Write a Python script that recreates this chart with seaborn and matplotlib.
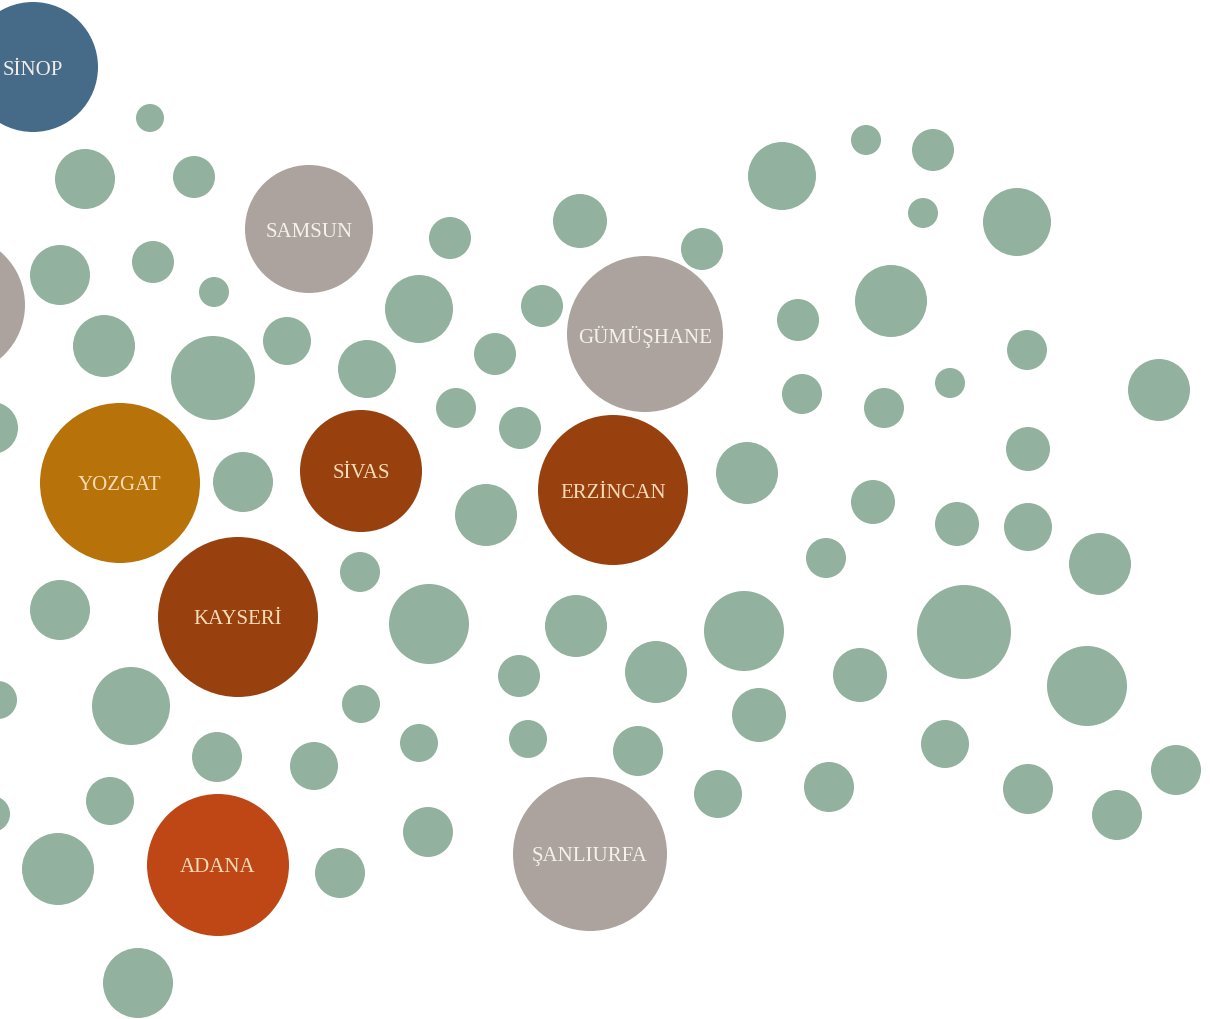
import matplotlib
matplotlib.use("Agg")
import matplotlib.pyplot as plt
import numpy as np
import pandas as pd
import seaborn as sns

# unlabeled (green) bubbles: centre x, centre y, radius (pixels of the original)
green_x = [150, 85, 194, 60, 153, 214, 104, 213, 287, 367, 419, -8, 243,
           450, 580, 702, 782, 542, 495, 456, 520, 798, 802, 747, 486,
           866, 933, 923, 1017, 891, 1027, 1159, 950, 884, 1028, 873, 957,
           1028, 1100, 826, 964, 860, 1087, 945, 829, 1028, 1117, 1176,
           429, 576, 519, 656, 744, 759, 419, 528, 638, 718, 428,
           360, 60, 131, -2, 361, 217, 314, 110, -8, 58, 340, 138]
green_y = [118, 179, 177, 275, 262, 292, 346, 378, 341, 369, 309, 428, 482,
           238, 221, 249, 176, 306, 354, 408, 428, 320, 394, 473, 515,
           140, 150, 213, 222, 301, 350, 390, 383, 408, 449, 502, 524,
           527, 564, 558, 632, 675, 686, 744, 787, 789, 815, 770,
           624, 626, 676, 672, 631, 715, 743, 739, 751, 794, 832,
           572, 610, 706, 700, 704, 757, 766, 801, 814, 869, 873, 983]
green_r = [14, 30, 21, 30, 21, 15, 31, 42, 24, 29, 34, 26, 30,
           21, 27, 21, 34, 21, 21, 20, 21, 21, 20, 31, 31,
           15, 21, 15, 34, 36, 20, 31, 15, 20, 22, 22, 22,
           24, 31, 20, 47, 27, 40, 24, 25, 25, 25, 25,
           40, 31, 21, 31, 40, 27, 19, 19, 25, 24, 25,
           20, 30, 39, 19, 19, 25, 24, 24, 18, 36, 25, 35]

# labelled bubbles
city_names = ["SİNOP", "SAMSUN", "GÜMÜŞHANE", "YOZGAT", "SİVAS", "ERZİNCAN",
              "KAYSERİ", "ADANA", "ŞANLIURFA", ""]
city_x = [33, 309, 645, 120, 361, 613, 238, 218, 590, -45]
city_y = [67, 229, 334, 483, 471, 490, 617, 865, 854, 305]
city_r = [65, 64, 78, 80, 61, 75, 80, 71, 77, 70]
city_group = ["blue", "gray", "gray", "amber", "rust", "rust", "rust", "red", "gray", "gray"]

colors = {"green": "#93b19f", "gray": "#aca39e", "blue": "#456b89",
          "amber": "#b77209", "rust": "#98410f", "red": "#bf4716"}
text_colors = {"gray": "#f4f0ec", "blue": "#f0ede8", "amber": "#f7dcb8",
               "rust": "#f7dcb8", "red": "#f7dcb8"}

df = pd.DataFrame({
    "x": green_x + city_x,
    "y": green_y + city_y,
    "r": green_r + city_r,
    "group": ["green"] * len(green_x) + city_group,
})
# marker area in pt^2 (1 px = 0.72 pt at 100 dpi)
df["area"] = (2 * df["r"] * 0.72) ** 2
amin, amax = df["area"].min(), df["area"].max()

fig = plt.figure(figsize=(12.13, 10.19), dpi=100)
ax = fig.add_axes([0, 0, 1, 1])
sns.scatterplot(data=df, x="x", y="y", hue="group", palette=colors,
                size="area", sizes=(amin, amax), size_norm=(amin, amax),
                linewidth=0, edgecolor="none", alpha=1, legend=False, ax=ax)

for name, x, y, g in zip(city_names, city_x, city_y, city_group):
    if name:
        ax.text(x, y + 3, name, ha="center", va="center", fontsize=15,
                family="Liberation Serif", color=text_colors[g])

ax.set_xlim(0, 1213)
ax.set_ylim(1019, 0)
ax.axis("off")
fig.savefig("out.png", dpi=100, facecolor="white")
plt.close()
